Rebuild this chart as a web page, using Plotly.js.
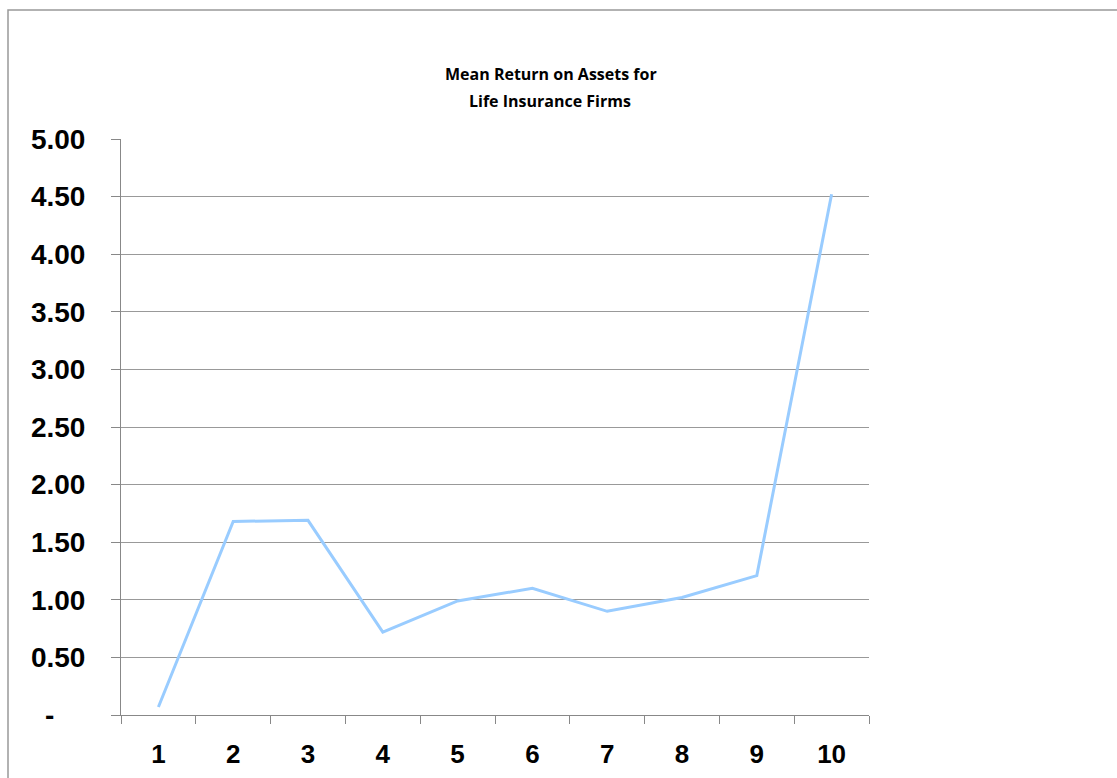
<!DOCTYPE html>
<html>
<head>
<meta charset="utf-8">
<script src="https://cdn.plot.ly/plotly-3.0.1.min.js"></script>
<style>html,body{margin:0;padding:0;background:#fff;}#chart{width:1117px;height:778px;}</style>
</head>
<body>
<div id="chart"></div>
<script>
const categories = ["1","2","3","4","5","6","7","8","9","10"];
const meanROA = [0.07, 1.68, 1.69, 0.72, 0.99, 1.10, 0.90, 1.02, 1.21, 4.52];
const yTickVals = [0, 0.5, 1, 1.5, 2, 2.5, 3, 3.5, 4, 4.5, 5];
const yTickText = ["-\u00a0\u00a0\u00a0\u00a0", "0.50", "1.00", "1.50", "2.00", "2.50", "3.00", "3.50", "4.00", "4.50", "5.00"];
const titleLines = ["Mean Return on Assets for", "Life Insurance Firms"];

const trace = {
  x: categories,
  y: meanROA,
  type: "scatter",
  mode: "lines",
  line: {color: "#99CCFF", width: 3},
  hoverinfo: "x+y"
};

const titleFont = {family: "Open Sans, Liberation Sans, Arial, sans-serif", size: 16, color: "#000", weight: "bold"};

const layout = {
  width: 1117,
  height: 778,
  paper_bgcolor: "#fff",
  plot_bgcolor: "#fff",
  margin: {l: 121, r: 248, t: 139, b: 63, pad: 0},
  showlegend: false,
  annotations: [
    {text: titleLines[0], xref: "paper", yref: "paper", x: (551 - 121) / 748, y: (715 - 74) / 576,
     xanchor: "center", yanchor: "middle", showarrow: false, font: titleFont},
    {text: titleLines[1], xref: "paper", yref: "paper", x: (550 - 121) / 748, y: (715 - 101) / 576,
     xanchor: "center", yanchor: "middle", showarrow: false, font: titleFont}
  ],
  xaxis: {
    type: "category",
    range: [-0.5, 9.5],
    tickson: "boundaries",
    ticks: "outside",
    ticklen: 8,
    tickcolor: "#888",
    tickwidth: 1,
    showline: true,
    linecolor: "#888",
    linewidth: 1,
    showgrid: false,
    zeroline: false,
    tickfont: {family: "Liberation Sans, Arial, sans-serif", size: 26, color: "#000", weight: "bold"},
    ticklabelstandoff: 16,
    fixedrange: true
  },
  yaxis: {
    range: [0, 5],
    tickvals: yTickVals,
    ticktext: yTickText,
    ticks: "outside",
    ticklen: 9,
    tickcolor: "#888",
    tickwidth: 1,
    showline: true,
    linecolor: "#888",
    linewidth: 1,
    showgrid: true,
    gridcolor: "#999",
    gridwidth: 1,
    zeroline: false,
    tickfont: {family: "Liberation Sans, Arial, sans-serif", size: 28, color: "#000", weight: "bold"},
    ticklabelstandoff: 20,
    fixedrange: true
  },
  shapes: [{
    type: "rect", xref: "paper", yref: "paper",
    x0: (8 - 121) / 748, x1: 1.6,
    y0: -0.3, y1: (715 - 10) / 576,
    line: {color: "#999", width: 1.5},
    fillcolor: "rgba(0,0,0,0)",
    layer: "below"
  }]
};

Plotly.newPlot("chart", [trace], layout, {displayModeBar: false, staticPlot: true});
</script>
</body>
</html>
